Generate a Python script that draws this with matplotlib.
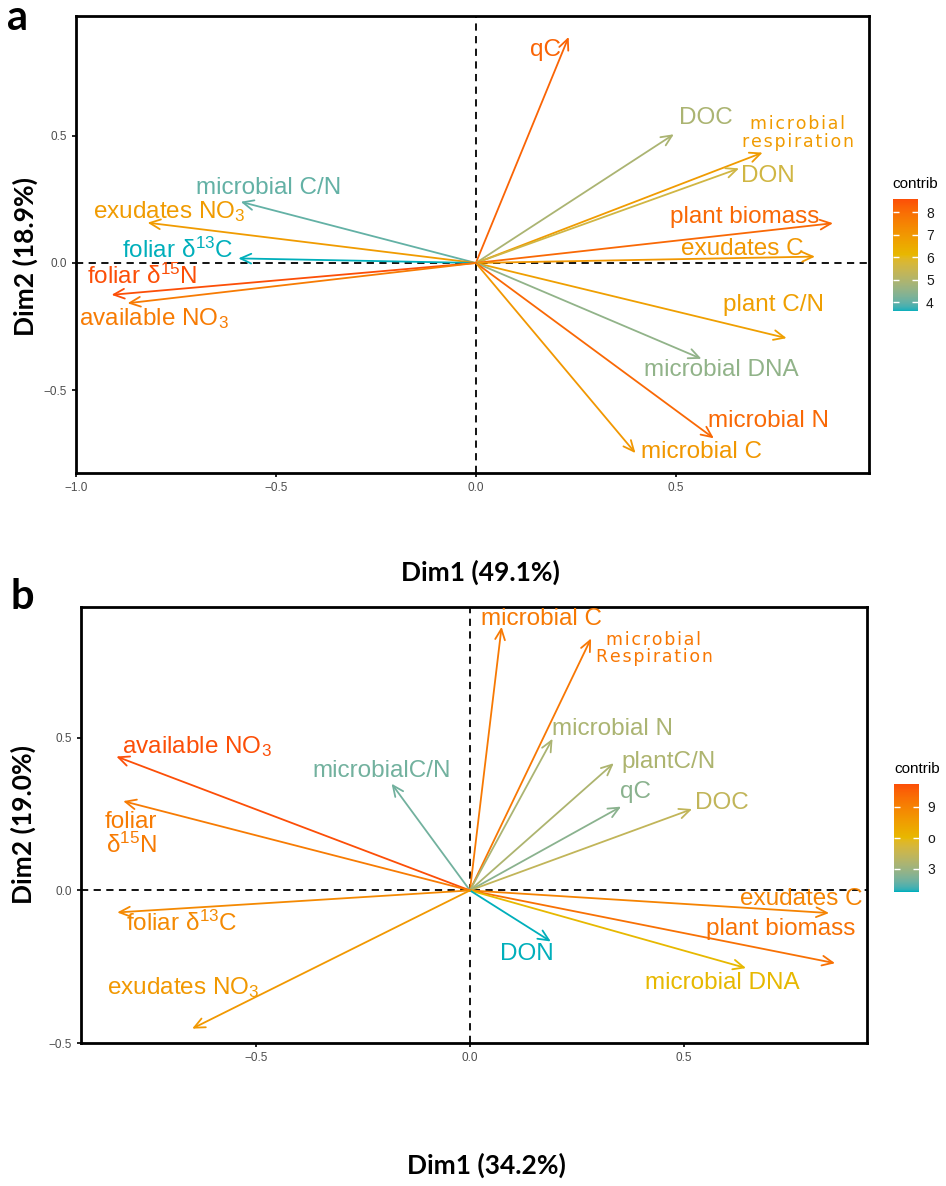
import numpy as np
import matplotlib.pyplot as plt
from matplotlib.colors import ListedColormap, Normalize, to_rgb
from matplotlib.cm import ScalarMappable

plt.rcParams['font.family'] = ['Liberation Sans', 'DejaVu Sans']
plt.rcParams['mathtext.fontset'] = 'custom'
plt.rcParams['mathtext.rm'] = 'Liberation Sans'

NO3 = r"NO$\mathregular{_3}$"
D13C = r"δ$\mathregular{^{13}}$C"
D15N = r"δ$\mathregular{^{15}}$N"

# panel a data
names_a = ["qC", "DOC", "microbial\nrespiration", "DON", "plant biomass", "exudates C",
           "plant C/N", "microbial DNA", "microbial N", "microbial C", "microbial C/N",
           "exudates " + NO3, "foliar " + D13C, "foliar " + D15N, "available " + NO3]
dim1_a = [0.232, 0.495, 0.717, 0.658, 0.893, 0.848, 0.777, 0.564, 0.595, 0.399,
          -0.588, -0.821, -0.594, -0.911, -0.871]
dim2_a = [0.887, 0.505, 0.433, 0.371, 0.156, 0.025, -0.295, -0.376, -0.688, -0.746,
          0.240, 0.158, 0.018, -0.125, -0.158]
contrib_a = [8.2, 4.9, 6.9, 5.6, 8.1, 7.0, 6.8, 4.5, 8.1, 7.0, 4.0, 6.9, 3.6, 8.6, 7.7]
ticks_a = [4, 5, 6, 7, 8]

# panel b data
names_b = ["microbial C", "microbial\nRespiration", "microbial N", "plantC/N", "qC", "DOC",
           "exudates C", "plant biomass", "microbial DNA", "DON", "microbialC/N",
           "available " + NO3, "foliar\n" + D15N, "foliar " + D13C, "exudates " + NO3]
dim1_b = [0.074, 0.283, 0.193, 0.336, 0.353, 0.519, 0.839, 0.853, 0.645, 0.189,
          -0.183, -0.826, -0.810, -0.824, -0.649]
dim2_b = [0.862, 0.824, 0.496, 0.416, 0.274, 0.266, -0.074, -0.238, -0.254, -0.167,
          0.349, 0.438, 0.292, -0.072, -0.452]
contrib_b = [9.4, 9.5, 3.5, 3.6, 2.5, 4.3, 8.9, 9.8, 6.0, 0.8, 1.9, 11.2, 9.3, 8.6, 7.8]
ticks_b = [3, 6, 9]
ticklabels_b = ["3", "o", "9"]

# label placement (data coords)
lab_a = [(0.175, 0.835), (0.575, 0.567), (0.805, 0.51), (0.73, 0.341), (0.672, 0.182),
         (0.667, 0.054), (0.744, -0.165), (0.614, -0.42), (0.732, -0.622), (0.564, -0.74),
         (-0.517, 0.293), (-0.767, 0.201), (-0.747, 0.051), (-0.834, -0.054), (-0.804, -0.217)]
lab_b = [(0.167, 0.888), (0.43, 0.791), (0.333, 0.527), (0.464, 0.42), (0.386, 0.321),
         (0.588, 0.285), (0.775, -0.028), (0.727, -0.127), (0.59, -0.302), (0.134, -0.209),
         (-0.206, 0.392), (-0.639, 0.472), (-0.792, 0.183), (-0.673, -0.108), (-0.669, -0.318)]


# gradient like ggplot's (interpolated in Lab space)
def rgb2lab(c):
    c = np.array(c)
    c = np.where(c <= 0.04045, c / 12.92, ((c + 0.055) / 1.055) ** 2.4)
    M = np.array([[0.4124, 0.3576, 0.1805], [0.2126, 0.7152, 0.0722], [0.0193, 0.1192, 0.9505]])
    xyz = M @ c / np.array([0.95047, 1.0, 1.08883])
    f = np.where(xyz > 0.008856, np.cbrt(xyz), 7.787 * xyz + 16 / 116)
    return np.array([116 * f[1] - 16, 500 * (f[0] - f[1]), 200 * (f[1] - f[2])])


def lab2rgb(lab):
    fy = (lab[0] + 16) / 116
    f = np.array([fy + lab[1] / 500, fy, fy - lab[2] / 200])
    xyz = np.where(f ** 3 > 0.008856, f ** 3, (f - 16 / 116) / 7.787) * np.array([0.95047, 1.0, 1.08883])
    Mi = np.array([[3.2406, -1.5372, -0.4986], [-0.9689, 1.8758, 0.0415], [0.0557, -0.2040, 1.0570]])
    c = Mi @ xyz
    c = np.where(c <= 0.0031308, 12.92 * c, 1.055 * np.clip(c, 0, None) ** (1 / 2.4) - 0.055)
    return np.clip(c, 0, 1)


stops = [rgb2lab(to_rgb(h)) for h in ["#00AFBB", "#E7B800", "#FC4E07"]]
cols = []
for t in np.linspace(0, 1, 256):
    k = min(int(t * 2), 1)
    u = t * 2 - k
    cols.append(lab2rgb(stops[k] * (1 - u) + stops[k + 1] * u))
cmap = ListedColormap(cols)


def biplot(ax, cax, names, d1, d2, contrib, labs, xlim, ylim, xticks, ticks, ticklabels):
    norm = Normalize(min(contrib), max(contrib))
    ax.axhline(0, color='black', ls=(0, (4, 3)), lw=1.3, zorder=1)
    ax.axvline(0, color='black', ls=(0, (4, 3)), lw=1.3, zorder=1)
    for i, name in enumerate(names):
        col = cmap(norm(contrib[i]))
        ax.annotate("", xy=(d1[i], d2[i]), xytext=(0, 0),
                    arrowprops=dict(arrowstyle="->,head_length=0.55,head_width=0.25",
                                    color=col, lw=1.3, shrinkA=0, shrinkB=0,
                                    mutation_scale=14), zorder=3)
        if "\n" in name and "foliar" not in name:
            # letter-spaced two-line label
            spaced = "\n".join("\u200a".join(line) for line in name.split("\n"))
            ax.text(labs[i][0], labs[i][1], spaced, color=col, ha='center', va='center',
                    family='DejaVu Sans', fontsize=12.5, linespacing=0.95, zorder=4)
        else:
            ax.text(labs[i][0], labs[i][1], name, color=col, ha='center', va='center',
                    fontsize=17.5, linespacing=1.0, zorder=4)
    ax.set_xticks(xticks)
    ax.set_yticks([-0.5, 0.0, 0.5])
    ax.set_xticklabels([("\u2212" if v < 0 else "") + f"{abs(v):.1f}" for v in xticks])
    ax.set_yticklabels(["\u22120.5", "0.0", "0.5"])
    ax.set_xlim(*xlim)
    ax.set_ylim(*ylim)
    ax.tick_params(labelsize=8.5, labelcolor='#4D4D4D', length=3, width=1.2, color='black')
    for s in ax.spines.values():
        s.set_linewidth(2)

    sm = ScalarMappable(norm=norm, cmap=cmap)
    cb = plt.colorbar(sm, cax=cax)
    cb.outline.set_visible(False)
    cb.set_ticks(ticks)
    cb.set_ticklabels(ticklabels)
    cax.yaxis.set_ticks_position('both')
    cax.tick_params(direction='in', color='white', length=4, width=1,
                    labelsize=10, labelcolor='#1a1a1a', pad=6)
    cax.set_title("contrib", fontsize=11, loc='left', pad=8)


fig = plt.figure(figsize=(9.46, 11.86), dpi=100)

ax_a = fig.add_axes([0.0803, 0.6012, 0.8383, 0.3853])
cax_a = fig.add_axes([0.9437, 0.7378, 0.0264, 0.0944])
biplot(ax_a, cax_a, names_a, dim1_a, dim2_a, contrib_a, lab_a,
       (-1.0, 0.983), (-0.824, 0.969), [-1.0, -0.5, 0.0, 0.5], ticks_a, [str(t) for t in ticks_a])

ax_b = fig.add_axes([0.0859, 0.1203, 0.8303, 0.3682])
cax_b = fig.add_axes([0.9453, 0.2482, 0.0264, 0.0908])
biplot(ax_b, cax_b, names_b, dim1_b, dim2_b, contrib_b, lab_b,
       (-0.908, 0.927), (-0.5, 0.928), [-0.5, 0.0, 0.5], ticks_b, ticklabels_b)

lab_kw = dict(family='Lato', fontweight='bold', fontsize=19, ha='center', va='center')
fig.text(480 / 946, 1 - 572 / 1186, "Dim1 (49.1%)", **lab_kw)
fig.text(25 / 946, 1 - 257 / 1186, "Dim2 (18.9%)", rotation=90, **lab_kw)
fig.text(486 / 946, 1 - 1165 / 1186, "Dim1 (34.2%)", **lab_kw)
fig.text(23 / 946, 1 - 825 / 1186, "Dim2 (19.0%)", rotation=90, **lab_kw)

fig.text(17 / 946, 1 - 18 / 1186, "a", fontsize=30, fontweight='bold', family='Lato', ha='center', va='center')
fig.text(22 / 946, 1 - 597 / 1186, "b", fontsize=30, fontweight='bold', family='Lato', ha='center', va='center')

fig.savefig("out.png", dpi=100)
